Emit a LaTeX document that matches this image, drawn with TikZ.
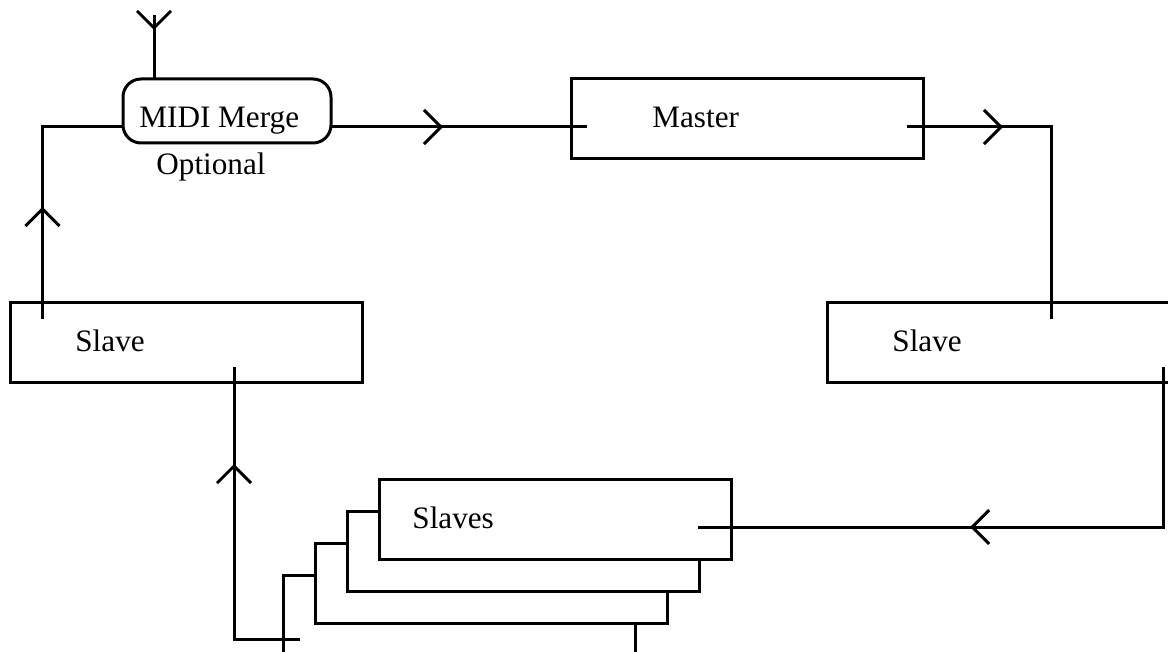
\documentclass[tikz,border=0pt]{standalone}
\usepackage{fontspec}
\setmainfont{Liberation Serif}
\usetikzlibrary{arrows.meta,decorations.markings}

\tikzset{
  unit/.style={draw, line width=1.5pt, fill=white, rectangle, inner sep=0pt, outer sep=0pt,
               minimum width=176pt, minimum height=40pt},
  unittxt/.style={anchor=base west, inner sep=0pt, font=\fontsize{15.6}{18}\selectfont},
  flow/.style={line width=1.5pt},
  chev/.style={postaction={decorate}, decoration={markings,
               mark=at position #1 with {\arrow{Straight Barb[length=8.5pt,width=17pt,line width=1.5pt]}}}}
}

\begin{document}
\begin{tikzpicture}
[x=0.5pt, y=-0.5pt]

\path[use as bounding box, clip] (0,0) rectangle (1168,652);

%boxes
\node[unit, rounded corners=9pt, minimum width=104pt, minimum height=32pt] (merge) at(227,111){};
\node[unit] (master) at(747,119){};
\node[unit] (slaveL) at(186.5,343){};
\node[unit] (slaveR) at(1003,343){};

%stack of slaves, back to front
\node[unit] (s4) at(459,615){};
\node[unit] (s3) at(491,583){};
\node[unit] (s2) at(523,551){};
\node[unit] (s1) at(555,519){};

%texts
\node[unittxt] (mergetxt) at(139,128){MIDI Merge};
\node[unittxt] (opttxt) at(156,175){Optional};
\node[unittxt] (mastertxt) at(652,128){Master};
\node[unittxt] (slaveLtxt) at(75,352){Slave};
\node[unittxt] (slaveRtxt) at(892,352){Slave};
\node[unittxt] (slavestxt) at(412,528){Slaves};

%connectors
\coordinate (ant) at(154,15);
\draw[flow, chev=7.5pt] (ant) -- (ant |- merge.north);

\draw[flow, chev=56pt] ([shift={(32,16)}]slaveL.north west) |- ([shift={(0,16)}]merge.west);
\draw[flow, chev=56pt] ([shift={(0,16)}]merge.east) -- ([shift={(16,8)}]master.west);
\draw[flow, chev=48pt] ([shift={(-16,8)}]master.east) -| ([shift={(48,16)}]slaveR.north);
\draw[flow, chev=176.5pt] ([shift={(160,24)}]slaveR.center) |- ([shift={(-33,8)}]s1.east);
\draw[flow, chev=120.5pt] ([shift={(17,64)}]s4.north west) -| ([shift={(47.5,-16)}]slaveL.south);

\end{tikzpicture}
\end{document}
